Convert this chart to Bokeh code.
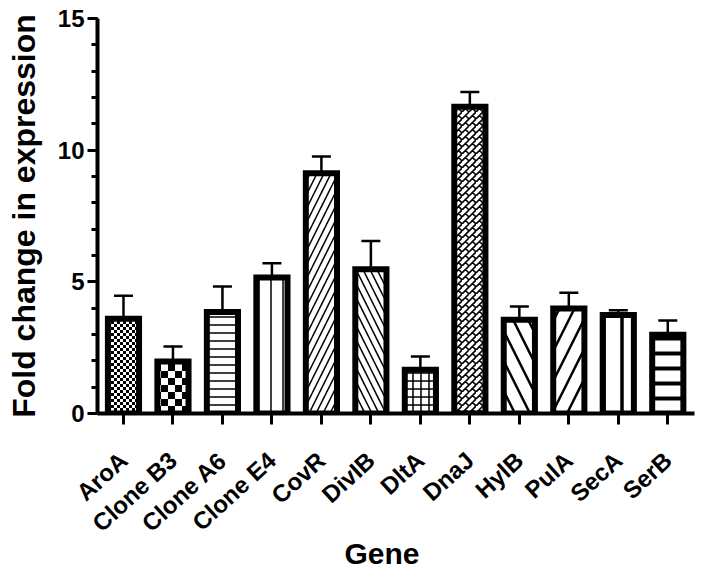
import math
from bokeh.plotting import figure
from bokeh.models import FixedTicker, Whisker, TeeHead, ColumnDataSource, CanvasTexture, Range1d, Title
from bokeh.core.properties import value
from bokeh.embed import file_html
from bokeh.resources import INLINE

# ---- data ----
genes = ["AroA", "Clone B3", "Clone A6", "Clone E4", "CovR", "DivIB",
         "DltA", "DnaJ", "HylB", "PulA", "SecA", "SerB"]
fold_change = [3.60, 1.97, 3.85, 5.16, 9.12, 5.48, 1.66, 11.65, 3.56, 3.99, 3.74, 2.99]
sem = [0.87, 0.57, 0.97, 0.55, 0.64, 1.07, 0.50, 0.56, 0.50, 0.60, 0.18, 0.54]
y_ticks = [0, 5, 10, 15]
y_minor = list(range(0, 16))

# ---- styles ----
patterns = ["fine_checker", "coarse_checker", "horizontal_line", "vertical_line",
            "right_diagonal_line", "left_diagonal_line", "cross", "brick",
            "left_diagonal_line", "right_diagonal_line", "vertical_line", "horizontal_line"]
hatch_scales = [6, 14, 8, 12, 14, 14, 8, 14, 30, 30, 18, 15]
hatch_weights = [1, 1, 1.5, 1.5, 1.5, 1.5, 1.5, 1.5, 2.5, 2.5, 3.5, 4]


def checker_code(size):
    return f"""
const S = {size};
const cv = ctx.canvas;
cv.width = S; cv.height = S;
const h = S / 2;
ctx.clearRect(0, 0, S, S);
ctx.fillStyle = "black";
ctx.fillRect(0, 0, h, h);
ctx.fillRect(h, h, h, h);
"""


def brick_code(size, lw):
    return f"""
const s = {size}, h = {size} / 2;
const cv = ctx.canvas;
cv.width = s; cv.height = s;
ctx.clearRect(0, 0, s, s);
ctx.strokeStyle = "black";
ctx.lineWidth = {lw};
ctx.lineCap = "butt";
ctx.beginPath();
for (let k = 0; k <= 4; k++) {{
  ctx.moveTo(k * h, 0); ctx.lineTo(0, k * h);
}}
const segs = [[h/2, h/2, h, h], [3*h/2, -h/2, 2*h, 0],
              [h/2, -h/2, h, 0], [3*h/2, -3*h/2, 2*h, -h]];
for (let i = -1; i <= 2; i++) {{
  for (let j = -1; j <= 3; j++) {{
    for (const sg of segs) {{
      ctx.moveTo(sg[0] + i*s, sg[1] + j*s);
      ctx.lineTo(sg[2] + i*s, sg[3] + j*s);
    }}
  }}
}}
ctx.stroke();
"""


extra = {
    "fine_checker": CanvasTexture(code=checker_code(6)),
    "coarse_checker": CanvasTexture(code=checker_code(14)),
    "brick": CanvasTexture(code=brick_code(14, 1.6)),
}

FONT = "Liberation Sans"

p = figure(width=702, height=573, output_backend="svg", toolbar_location=None,
           x_range=Range1d(-0.525, 11.54), y_range=Range1d(0, 15),
           min_border_left=97, min_border_right=8, min_border_top=18,
           min_border_bottom=160)
p.title.visible = False
p.outline_line_color = None
p.xgrid.visible = False
p.ygrid.visible = False
p.background_fill_color = "white"

xs = list(range(len(genes)))
upper = [v + e for v, e in zip(fold_change, sem)]
src = ColumnDataSource(dict(x=xs, top=fold_change, upper=upper))

whisk = Whisker(source=src, base="x", lower="top", upper="upper", dimension="height",
                line_color="black", line_width=2.5,
                upper_head=TeeHead(size=19, line_width=2.5, line_color="black"),
                lower_head=None)
p.add_layout(whisk)

for i in xs:
    p.vbar(x=[xs[i]], top=[fold_change[i]], bottom=0, width=0.63,
           fill_color="white", line_color="black", line_width=6, line_join="miter",
           hatch_pattern=value(patterns[i]), hatch_scale=hatch_scales[i],
           hatch_weight=hatch_weights[i], hatch_color="black", hatch_extra=extra)

# y axis
ya = p.yaxis[0]
ya.ticker = FixedTicker(ticks=y_ticks, minor_ticks=y_minor)
ya.axis_line_width = 4
ya.axis_line_color = "black"
ya.major_tick_line_width = 3
ya.major_tick_in = 0
ya.major_tick_out = 10
ya.minor_tick_line_width = 3
ya.minor_tick_in = 0
ya.minor_tick_out = 6
ya.major_label_text_font = FONT
ya.major_label_text_font_style = "bold"
ya.major_label_text_font_size = "24px"
ya.major_label_text_color = "black"
ya.major_label_standoff = 3
ya.axis_label = "Fold change in expression"
ya.axis_label_text_font = FONT
ya.axis_label_text_font_style = "bold"
ya.axis_label_text_font_size = "32px"
ya.axis_label_text_color = "black"
ya.axis_label_standoff = 13

# x axis
xa = p.xaxis[0]
xa.ticker = FixedTicker(ticks=xs, minor_ticks=[])
xa.major_label_overrides = {i: g for i, g in zip(xs, genes)}
xa.major_label_orientation = 0.74
xa.axis_line_width = 4
xa.axis_line_color = "black"
xa.major_tick_line_width = 3
xa.major_tick_in = 0
xa.major_tick_out = 11
xa.major_label_text_font = FONT
xa.major_label_text_font_style = "bold"
xa.major_label_text_font_size = "24px"
xa.major_label_text_color = "black"
xa.major_label_standoff = 32

gene_title = Title(text="Gene", align="left", offset=247, standoff=-30,
                   text_font=FONT, text_font_style="bold", text_font_size="30px",
                   text_color="black")
p.add_layout(gene_title, "below")

open("out.html", "w").write(file_html(p, INLINE))
